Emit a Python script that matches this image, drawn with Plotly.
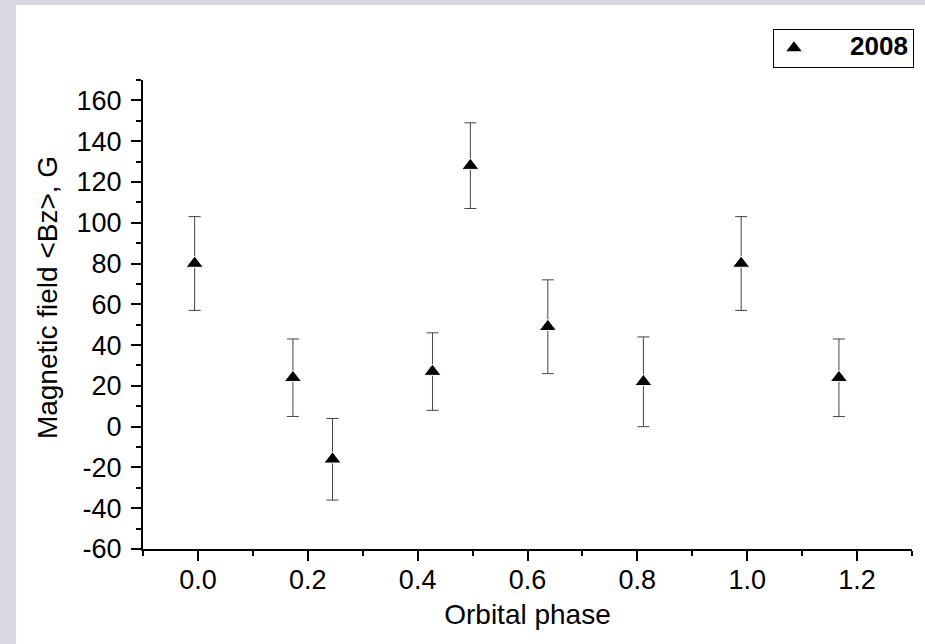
import plotly.graph_objects as go

# orbital phase, <Bz> in G, and 1-sigma errors (2008 season)
phase = [-0.006, 0.173, 0.245, 0.427, 0.496, 0.637, 0.811, 0.989, 1.167]
bz = [80, 24, -16, 27, 128, 49, 22, 80, 24]
bz_err = [23, 19, 20, 19, 21, 23, 22, 23, 19]

y_ticks = [-60, -40, -20, 0, 20, 40, 60, 80, 100, 120, 140, 160]
y_labels = [str(v) for v in y_ticks]  # plain hyphen minus, like the original

FONT = "Liberation Sans, Arial, sans-serif"
FS_TICK = 27
FS_TITLE = 28

fig = go.Figure()

fig.add_trace(go.Scatter(
    x=phase, y=bz, mode="markers",
    name="<span style='font-size:26px'>\u00a0\u00a0\u00a0\u00a0\u00a02008</span>",
    marker=dict(symbol="triangle-up", size=15, color="black",
                line=dict(color="white", width=1)),
    error_y=dict(type="data", array=bz_err, visible=True,
                 color="#444444", thickness=1, width=6),
))

# white sheet over the greyish slide background
fig.add_shape(type="rect", xref="paper", yref="paper",
              x0=-0.165, x1=1.02, y0=-0.21, y1=1.16,
              fillcolor="white", line=dict(width=0), layer="below")

axis_common = dict(
    showline=True, linecolor="black", linewidth=2, mirror=False,
    showgrid=False, zeroline=False,
    ticks="outside", ticklen=10, tickwidth=2, tickcolor="black",
    tickfont=dict(family=FONT, size=FS_TICK, color="black"),
)

fig.update_xaxes(
    range=[-0.1, 1.3], tick0=0, dtick=0.2, tickformat=".1f",
    minor=dict(dtick=0.1, tick0=0, ticks="outside", ticklen=5, tickwidth=2, tickcolor="black"),
    title=dict(text="Orbital phase", font=dict(family=FONT, size=FS_TITLE, color="black"), standoff=10),
    ticklabelstandoff=-4,
    **axis_common,
)
fig.update_yaxes(
    range=[-60, 170], tickmode="array", tickvals=y_ticks, ticktext=y_labels,
    minor=dict(tickmode="linear", dtick=10, tick0=0, ticks="outside", ticklen=5, tickwidth=2, tickcolor="black"),
    ticklabelstandoff=4,
    **axis_common,
)

# y title placed by hand: in the original it sits a bit above the axis middle
fig.add_annotation(
    text="Magnetic field &lt;Bz&gt;, G", textangle=-90,
    xref="paper", yref="paper", x=-0.1248, y=0.535,
    xanchor="center", yanchor="middle", showarrow=False,
    font=dict(family=FONT, size=FS_TITLE, color="black"),
)

fig.update_layout(
    width=925, height=644,
    margin=dict(l=143, r=13, t=80, b=95, autoexpand=False),
    paper_bgcolor="#d8d8e3", plot_bgcolor="white",
    showlegend=True,
    legend=dict(
        x=1.0026, xanchor="right", y=1.109, yanchor="top",
        bgcolor="white", bordercolor="black", borderwidth=1,
        font=dict(family=FONT, size=18, color="black", weight="bold"),
    ),
)

# drop the page's default 8px body margin so the figure sits at the window corner
fig.write_html("out.html", config={"displayModeBar": False},
               post_script="document.body.style.margin='0';")
